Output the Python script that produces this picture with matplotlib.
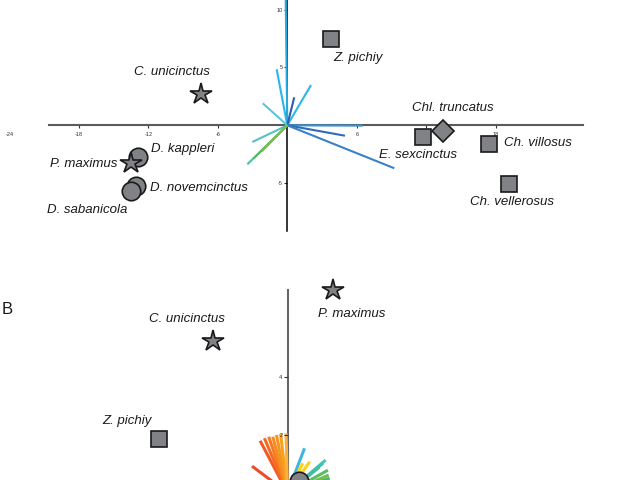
import matplotlib
matplotlib.use("Agg")
import matplotlib.pyplot as plt

# ---------------- data: panel A ----------------
a_species = ["Z. pichiy", "C. unicinctus", "D. kappleri", "P. maximus",
             "D. novemcinctus", "D. sabanicola", "E. sexcinctus",
             "Chl. truncatus", "Ch. villosus", "Ch. vellerosus"]
a_pc1 = [3.77, -7.45, -12.87, -13.50, -13.07, -13.50, 11.72, 13.42, 17.44, 19.12]
a_pc2 = [7.45, 2.70, -2.76, -3.23, -5.22, -5.65, -0.98, -0.47, -1.61, -5.09]
a_group = ["Euphractinae", "Tolypeutinae", "Dasypodinae", "Tolypeutinae",
           "Dasypodinae", "Dasypodinae", "Euphractinae", "Chlamyphorinae",
           "Euphractinae", "Euphractinae"]
a_load_x = [-0.14, -0.92, 2.05, 0.60, -2.12, 6.51, 4.98, 9.24, -3.02, -3.45, -2.90, -2.20]
a_load_y = [11.0, 4.84, 3.48, 2.42, 1.90, -0.03, -0.90, -3.71, -1.44, -3.37, -2.85, -2.25]
a_xticks = [-24, -18, -12, -6, 6, 12, 18]
a_yticks = [-5, 5, 10]

# ---------------- data: panel B ----------------
b_species = ["P. maximus", "C. unicinctus", "Z. pichiy", "T. matacus"]
b_pc1 = [1.59, -2.59, -4.44, 0.41]
b_pc2 = [7.03, 5.26, 1.85, 0.41]
b_group = ["Tolypeutinae", "Tolypeutinae", "Euphractinae", "Dasypodinae"]
b_load_x = [-0.95, -0.80, -0.65, -0.51, -0.38, -0.24, -0.05, -1.23,
            0.59, 0.53, 0.77, 1.32, 1.23, 1.11, 1.40, 1.43, 1.46]
b_load_y = [1.80, 1.89, 1.94, 1.94, 2.00, 2.04, 2.06, 0.92,
            1.54, 1.02, 1.07, 1.13, 1.02, 0.89, 0.78, 0.61, 0.50]
b_yticks = [2, 4]

# ---------------- styles / layout ----------------
group_marker = {"Euphractinae": ("s", 12.0), "Chlamyphorinae": ("D", 11.3),
                "Tolypeutinae": ("*", 16.0), "Dasypodinae": ("o", 13.3)}
a_load_colors = ["#27a9e1", "#2bb5e8", "#2cb7e8", "#2e5cae", "#5bc4e0", "#3a93d6",
                 "#2f6cb8", "#3a80c8", "#56c2c8", "#4dbfa9", "#5cb85c", "#7cc043"]
b_load_colors = ["#f15a24", "#f26b21", "#f47920", "#f68b1f", "#f7941d", "#f9a11b",
                 "#fbb040", "#ef4b28", "#3fb6e0", "#fdd20a", "#fcd116", "#4dc3bf",
                 "#45bfb0", "#3fbfa0", "#5dbb63", "#6cc04a", "#4cb66e"]
# label offsets in pixels (dx right, dy down)
a_lab_off = [(27, 19), (-29, -22), (44, -8), (-47, 1), (63, 2), (-44, 19),
             (-5, 18), (10, -23), (49, -1), (3, 18)]
b_lab_off = [(18, 24), (-26, -22), (-32, -18), (45, -32)]

plt.rcParams["font.family"] = ["Liberation Sans", "DejaVu Sans"]
fig = plt.figure(figsize=(6.4, 4.8), dpi=100)
fig.patch.set_facecolor("white")

W, H = 640, 480
# panel A geometry (pixels)
a_ox, a_oy, a_s, a_h = 287.3, 125.3, 11.58, 245
axA = fig.add_axes([0, 1 - a_h / H, 1, a_h / H])
axA.set_xlim(-a_ox / a_s, (W - a_ox) / a_s)
axA.set_ylim(-(a_h - a_oy) / a_s, a_oy / a_s)

b_ox, b_oy, b_s, b_top = 287.5, 492.7, 28.85, 250
axB = fig.add_axes([0, 0, 1, (H - b_top) / H])
axB.set_xlim(-b_ox / b_s, (W - b_ox) / b_s)
axB.set_ylim((b_oy - H) / b_s, (b_oy - b_top) / b_s)


def style_axes(ax):
    ax.set_facecolor("none")
    ax.spines["top"].set_visible(False)
    ax.spines["right"].set_visible(False)
    ax.spines["left"].set_position(("data", 0))
    ax.spines["bottom"].set_position(("data", 0))


style_axes(axA)
axA.spines["bottom"].set_color("#5a5a5a")
axA.spines["bottom"].set_linewidth(1.5)
axA.spines["bottom"].set_bounds(-20.58, 25.54)
axA.spines["left"].set_color("black")
axA.spines["left"].set_linewidth(1.1)
axA.spines["left"].set_bounds(-9.13, 11.0)
axA.set_xticks(a_xticks)
axA.set_xticklabels([str(t) for t in a_xticks])
axA.set_yticks(a_yticks)
axA.set_yticklabels([str(t) for t in a_yticks])
axA.tick_params(axis="x", direction="out", length=2.4, width=0.8, pad=2.5,
                labelsize=4, color="#333333", labelcolor="#333333")
axA.tick_params(axis="y", direction="out", length=2.4, width=0.8, pad=1,
                labelsize=4, color="#333333", labelcolor="#333333")
axA.xaxis.get_major_ticks()[0].tick1line.set_visible(False)

style_axes(axB)
axB.spines["bottom"].set_visible(False)
axB.spines["left"].set_color("#666666")
axB.spines["left"].set_linewidth(1.5)
axB.spines["left"].set_bounds(-1, 7.03)
axB.set_xticks([])
axB.set_yticks(b_yticks)
axB.set_yticklabels([str(t) for t in b_yticks])
axB.tick_params(axis="y", direction="out", length=2.8, width=0.8, pad=1,
                labelsize=4, color="#333333", labelcolor="#222222")
axB.yaxis.set_zorder(4)

# loadings
for dx, dy, c in zip(a_load_x, a_load_y, a_load_colors):
    axA.plot([0, dx], [0, dy], color=c, lw=1.5, zorder=3, solid_capstyle="butt")
for dx, dy, c in zip(b_load_x, b_load_y, b_load_colors):
    axB.plot([0, dx], [0, dy], color=c, lw=2.2, zorder=3, solid_capstyle="butt")


def draw_points(ax, names, xs, ys, groups, offs):
    for n, x, y, g, (ox, oy) in zip(names, xs, ys, groups, offs):
        m, ms = group_marker[g]
        ax.plot([x], [y], marker=m, ms=ms, mfc="#808285", mec="#1a1a1a",
                mew=1.2, ls="none", zorder=5)
        ax.annotate(n, (x, y), xytext=(ox * 0.72, -oy * 0.72),
                    textcoords="offset points", ha="center", va="center",
                    fontsize=9.5, style="italic", color="#1a1a1a", zorder=6)


draw_points(axA, a_species, a_pc1, a_pc2, a_group, a_lab_off)
draw_points(axB, b_species, b_pc1, b_pc2, b_group, b_lab_off)

fig.text(1.5 / W, 1 - 309 / H, "B", fontsize=12, ha="left", va="center",
         color="#1a1a1a")

fig.savefig("out.png", dpi=100)
